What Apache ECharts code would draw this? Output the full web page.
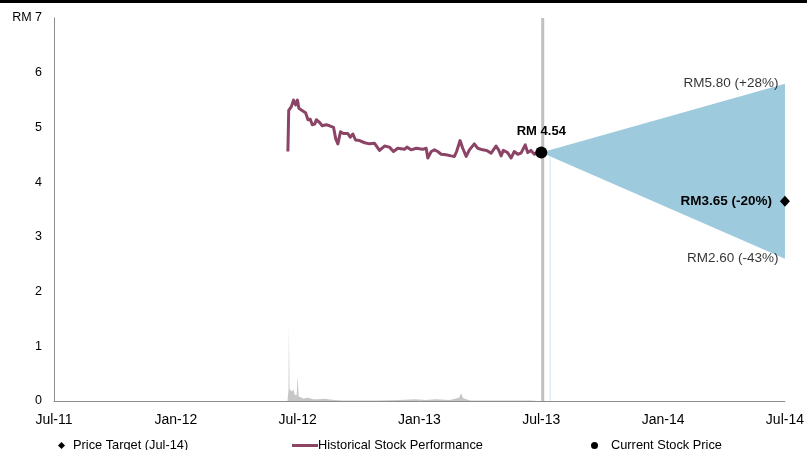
<!DOCTYPE html>
<html>
<head>
<meta charset="utf-8">
<script src="https://cdn.jsdelivr.net/npm/echarts@6/dist/echarts.min.js"></script>
<style>
  html, body { margin: 0; padding: 0; background: #fff; }
  #chart { width: 807px; height: 450px; }
</style>
</head>
<body>
<div id="chart"></div>
<script>
// X positions are months counted from Jul-11 (0) to Jul-14 (36)
const tickLabels = ['Jul-11', 'Jan-12', 'Jul-12', 'Jan-13', 'Jul-13', 'Jan-14', 'Jul-14'];

// Historical closing price (RM)
const priceMonths = [11.52, 11.56, 11.69, 11.8, 11.9, 11.99, 12.06, 12.18, 12.26, 12.39, 12.51, 12.62,
  12.72, 12.84, 12.92, 13.08, 13.21, 13.41, 13.57, 13.77, 13.87, 13.98, 14.11, 14.26, 14.47, 14.59,
  14.72, 14.85, 15.05, 15.3, 15.54, 15.79, 16.03, 16.28, 16.52, 16.72, 16.93, 17.02, 17.26, 17.38,
  17.59, 17.84, 18.16, 18.33, 18.41, 18.58, 18.74, 18.9, 19.07, 19.31, 19.56, 19.72, 19.83, 20.0,
  20.13, 20.3, 20.46, 20.7, 20.87, 21.11, 21.31, 21.53, 21.77, 21.9, 22.02, 22.13, 22.34, 22.51,
  22.67, 22.84, 23.0, 23.21, 23.33, 23.49, 23.66, 23.77, 24.0];
const priceValues = [4.56, 5.31, 5.38, 5.5, 5.41, 5.5, 5.35, 5.32, 5.35, 5.27, 5.14, 5.15,
  5.05, 5.06, 5.14, 5.09, 5.03, 5.05, 5.03, 5.0, 4.8, 4.7, 4.92, 4.89, 4.89, 4.82,
  4.88, 4.77, 4.76, 4.72, 4.7, 4.71, 4.58, 4.66, 4.64, 4.56, 4.62, 4.62, 4.6, 4.64,
  4.59, 4.62, 4.6, 4.62, 4.44, 4.56, 4.59, 4.56, 4.51, 4.5, 4.48, 4.47, 4.56, 4.76,
  4.62, 4.47, 4.59, 4.7, 4.62, 4.59, 4.58, 4.53, 4.66, 4.59, 4.48, 4.58, 4.54, 4.44,
  4.56, 4.51, 4.53, 4.68, 4.54, 4.58, 4.51, 4.54, 4.54];

// Traded volume (same scale, shown as faint grey area)
const volumeMonths = [11.5, 11.55, 11.57, 11.6, 11.7, 11.8, 11.85, 11.95, 12.0, 12.05, 12.15, 12.3,
  12.45, 12.6, 12.75, 13.0, 13.3, 13.5, 13.8, 14.2, 15.0, 16.0, 17.0, 17.8, 18.3, 18.8, 19.5,
  19.95, 20.05, 20.15, 20.5, 21.5, 22.5, 23.5, 23.8];
const volumeValues = [0, 0.2, 1.38, 0.22, 0.18, 0.2, 0.12, 0.1, 0.45, 0.08, 0.07, 0.04,
  0.06, 0.05, 0.03, 0.03, 0.04, 0.03, 0.02, 0.01, 0.01, 0.01, 0.02, 0.03, 0.02, 0.03, 0.02,
  0.06, 0.14, 0.05, 0.01, 0.01, 0.01, 0.01, 0];

// Current price and 12-month target range
const currentMonth = 24;
const currentPrice = 4.54;
const targetMonth = 36;
const targetHigh = 5.80;
const targetLow = 2.60;
const targetPrice = 3.65;
const todayMarkerMonth = 24.07;
const rangeEdgeMonth = 24.44;

const FONT = 'Liberation Sans, Arial, sans-serif';
const zip = (xs, ys) => xs.map((x, i) => [x, ys[i]]);
const pct = v => Math.round((v / currentPrice - 1) * 100);
const sign = n => (n > 0 ? '+' : '') + n;

const chart = echarts.init(document.getElementById('chart'), null, { renderer: 'canvas' });

const legendText = { fontFamily: FONT, fontSize: 12.8, color: '#000' };

chart.setOption({
  animation: false,
  backgroundColor: '#fff',
  textStyle: { fontFamily: FONT },
  graphic: [{
    type: 'rect', left: 0, top: 0,
    shape: { width: 807, height: 3 },
    style: { fill: '#000' }
  }],
  grid: { left: 54, right: 21, top: 18, bottom: 49 },
  legend: [
    {
      data: ['Price Target (Jul-14)'], left: 58, top: 439, padding: 0, icon: 'diamond',
      itemWidth: 7, itemHeight: 7,
      textStyle: Object.assign({ padding: [0, 0, 0, 3] }, legendText)
    },
    {
      data: ['Historical Stock Performance'], left: 292, top: 439, padding: 0, icon: 'rect',
      itemWidth: 26, itemHeight: 3,
      textStyle: Object.assign({ padding: [0, 0, 0, -5] }, legendText)
    },
    {
      data: ['Current Stock Price'], left: 591, top: 439, padding: 0, icon: 'circle',
      itemWidth: 7, itemHeight: 7,
      textStyle: Object.assign({ padding: [0, 0, 0, 8] }, legendText)
    }
  ],
  xAxis: {
    type: 'value', min: 0, max: 36, interval: 6,
    axisLine: { lineStyle: { color: '#8c8c8c', width: 1 } },
    axisTick: { show: false },
    splitLine: { show: false },
    axisLabel: {
      margin: 12, fontFamily: FONT, fontSize: 14, color: '#000',
      formatter: v => tickLabels[Math.round(v / 6)] || ''
    }
  },
  yAxis: {
    type: 'value', min: 0, max: 7, interval: 1,
    axisLine: { show: true, lineStyle: { color: '#8c8c8c', width: 1 } },
    axisTick: { show: false },
    splitLine: { show: false },
    axisLabel: {
      margin: 12, fontFamily: FONT, fontSize: 12.5, color: '#000',
      formatter: v => (v === 7 ? 'RM 7' : String(v))
    }
  },
  series: [
    {
      name: 'Volume', type: 'line', data: zip(volumeMonths, volumeValues),
      symbol: 'none', lineStyle: { width: 0 },
      areaStyle: { color: '#c6c6c6', opacity: 1 }, z: 1
    },
    {
      name: 'Target Range', type: 'custom', z: 2,
      data: [[currentMonth, currentPrice, targetHigh, targetLow]],
      renderItem: (params, api) => {
        const p0 = api.coord([api.value(0), api.value(1)]);
        const hi = api.coord([targetMonth, api.value(2)]);
        const lo = api.coord([targetMonth, api.value(3)]);
        return {
          type: 'polygon',
          shape: { points: [p0, hi, lo] },
          style: { fill: '#9dcadc' }
        };
      }
    },
    {
      name: 'Range Edge', type: 'line', z: 2, symbol: 'none',
      data: [[rangeEdgeMonth, 0], [rangeEdgeMonth, 4.47]],
      lineStyle: { color: '#cfe6ee', width: 1 }
    },
    {
      name: 'Today', type: 'line', z: 3, symbol: 'none',
      data: [[todayMarkerMonth, 0], [todayMarkerMonth, 7]],
      lineStyle: { color: '#c0c0c0', width: 3 }
    },
    {
      name: 'Historical Stock Performance', type: 'line', z: 4,
      data: zip(priceMonths, priceValues), symbol: 'none',
      color: '#8b4466',
      lineStyle: { color: '#8b4466', width: 3, join: 'round' }
    },
    {
      name: 'Current Stock Price', type: 'scatter', z: 6,
      data: [[currentMonth, currentPrice]], symbol: 'circle', symbolSize: 12,
      itemStyle: { color: '#000', opacity: 1 },
      label: {
        show: true, position: 'top', distance: 9,
        formatter: () => 'RM ' + currentPrice.toFixed(2),
        fontFamily: FONT, fontSize: 13, fontWeight: 'bold', color: '#000'
      }
    },
    {
      name: 'Price Target (Jul-14)', type: 'scatter', z: 6,
      data: [[targetMonth, targetPrice]], symbol: 'diamond', symbolSize: [10, 11],
      itemStyle: { color: '#000', opacity: 1 },
      label: {
        show: true, position: 'left', distance: 8,
        formatter: () => 'RM' + targetPrice.toFixed(2) + ' (' + sign(pct(targetPrice)) + '%)',
        fontFamily: FONT, fontSize: 13.5, fontWeight: 'bold', color: '#000'
      }
    },
    {
      name: 'Range Labels', type: 'scatter', z: 6,
      data: [[targetMonth, targetHigh], [targetMonth, targetLow]],
      symbolSize: 1, itemStyle: { color: 'rgba(0,0,0,0)' },
      label: {
        show: true, position: 'left', distance: 6,
        formatter: p => 'RM' + p.value[1].toFixed(2) + ' (' + sign(pct(p.value[1])) + '%)',
        fontFamily: FONT, fontSize: 13.5, color: '#000'
      }
    }
  ]
});
</script>
</body>
</html>
